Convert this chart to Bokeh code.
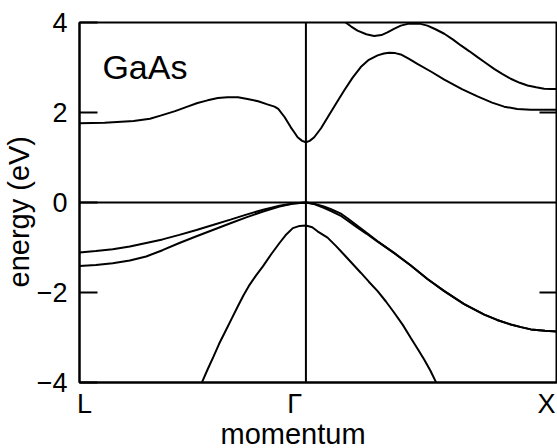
from bokeh.plotting import figure
from bokeh.models import Range1d, FixedTicker, Span, Label, Title
from bokeh.embed import file_html
from bokeh.resources import INLINE

# ---- data (k in units where L=-0.9, Gamma=0, X=1; energies in eV) ----
k_L, k_G, k_X = -0.9, 0.0, 1.0
E_min, E_max = -4.0, 4.0

cb1_k = [-0.90, -0.80, -0.685, -0.62, -0.578, -0.52, -0.471, -0.431, -0.391, -0.35, -0.312, -0.27,
         -0.232, -0.19, -0.153, -0.125, -0.110, -0.085, -0.060, -0.045, -0.033, -0.015, 0.0,
         0.015, 0.033, 0.060, 0.086, 0.12, 0.152, 0.185, 0.218, 0.25, 0.285, 0.31, 0.331, 0.355,
         0.377, 0.41, 0.443, 0.50, 0.550, 0.62, 0.682, 0.74, 0.788, 0.84, 0.894, 0.95, 1.0]
cb1_E = [1.76, 1.77, 1.81, 1.86, 1.93, 2.03, 2.13, 2.21, 2.27, 2.32, 2.34, 2.34,
         2.30, 2.25, 2.18, 2.13, 2.08, 1.90, 1.67, 1.55, 1.45, 1.37, 1.34,
         1.37, 1.45, 1.65, 1.89, 2.20, 2.49, 2.77, 3.01, 3.17, 3.27, 3.31, 3.33, 3.32,
         3.29, 3.19, 3.08, 2.90, 2.73, 2.52, 2.36, 2.22, 2.13, 2.08, 2.06, 2.06, 2.06]

cb2_k = [0.0, 0.10, 0.158, 0.18, 0.205, 0.24, 0.271, 0.30, 0.324, 0.35, 0.377, 0.405, 0.430,
         0.455, 0.483, 0.515, 0.550, 0.585, 0.616, 0.650, 0.682, 0.715, 0.748, 0.780, 0.814,
         0.850, 0.881, 0.915, 0.947, 0.975, 1.0]
cb2_E = [4.6, 4.3, 4.0, 3.91, 3.82, 3.74, 3.70, 3.72, 3.78, 3.86, 3.93, 3.97, 3.98,
         3.97, 3.93, 3.85, 3.75, 3.62, 3.49, 3.36, 3.23, 3.10, 2.97, 2.86, 2.75,
         2.66, 2.60, 2.56, 2.53, 2.52, 2.52]

hh_k = [-0.90, -0.835, -0.768, -0.70, -0.635, -0.57, -0.503, -0.435, -0.370, -0.30, -0.237,
        -0.17, -0.105, -0.05, 0.0,
        0.035, 0.071, 0.10, 0.137, 0.165, 0.198, 0.24, 0.285, 0.35, 0.417, 0.483, 0.550,
        0.629, 0.709, 0.76, 0.814, 0.855, 0.894, 0.95, 1.0]
hh_E = [-1.11, -1.08, -1.04, -0.98, -0.90, -0.82, -0.72, -0.61, -0.50, -0.38, -0.27,
        -0.16, -0.07, -0.02, 0.0,
        -0.03, -0.09, -0.15, -0.24, -0.35, -0.49, -0.67, -0.86, -1.12, -1.40, -1.70, -1.97,
        -2.26, -2.49, -2.61, -2.71, -2.77, -2.82, -2.85, -2.87]

lh_k = [-0.90, -0.835, -0.768, -0.70, -0.635, -0.57, -0.503, -0.435, -0.370, -0.30, -0.237,
        -0.17, -0.105, -0.05, 0.0,
        0.035, 0.071, 0.10, 0.137, 0.165, 0.198, 0.24, 0.285, 0.35, 0.417, 0.483, 0.550,
        0.629, 0.709, 0.76, 0.814, 0.855, 0.894, 0.95, 1.0]
lh_E = [-1.41, -1.39, -1.35, -1.29, -1.20, -1.06, -0.90, -0.75, -0.61, -0.46, -0.33,
        -0.20, -0.09, -0.02, 0.0,
        -0.04, -0.12, -0.19, -0.29, -0.40, -0.53, -0.69, -0.87, -1.12, -1.40, -1.70, -1.97,
        -2.26, -2.49, -2.61, -2.71, -2.77, -2.82, -2.85, -2.87]

so_k = [-0.43, -0.412, -0.39, -0.367, -0.345, -0.320, -0.295, -0.271, -0.248, -0.224, -0.198,
        -0.171, -0.138, -0.105, -0.078, -0.052, -0.025, 0.0,
        0.025, 0.046, 0.086, 0.12, 0.152, 0.185, 0.218, 0.25, 0.285, 0.318, 0.351, 0.385,
        0.417, 0.445, 0.470, 0.495, 0.516, 0.53]
so_E = [-4.2, -3.98, -3.70, -3.42, -3.14, -2.86, -2.58, -2.31, -2.06, -1.83, -1.62,
        -1.42, -1.15, -0.90, -0.71, -0.57, -0.52, -0.51,
        -0.55, -0.64, -0.78, -0.97, -1.16, -1.36, -1.56, -1.76, -1.97, -2.20, -2.45, -2.72,
        -3.01, -3.26, -3.49, -3.74, -3.98, -4.2]

bands = [(cb1_k, cb1_E), (cb2_k, cb2_E), (hh_k, hh_E), (lh_k, lh_E), (so_k, so_E)]

y_ticks = [-4, -2, 0, 2, 4]
y_tick_labels = {-4: "\u22124", -2: "\u22122", 0: "0", 2: "2", 4: "4"}
x_label_pos = [-0.88, -0.045, 0.956]
x_tick_labels = ["L", "\u0393", "X"]
inner_ticks = [-2, 2]

FONT = "Liberation Sans"
W, H = 557, 448
B_LEFT, B_TOP, B_RIGHT, B_BOTTOM = 79, 22, 0, 66
TICK_PX = 18

p = figure(width=W, height=H, output_backend="svg", toolbar_location=None,
           x_range=Range1d(k_L, k_X), y_range=Range1d(E_min, E_max),
           min_border_left=B_LEFT, min_border_top=B_TOP, min_border_right=B_RIGHT,
           min_border_bottom=B_BOTTOM)
p.background_fill_color = "white"
p.border_fill_color = "white"
p.grid.visible = False
p.outline_line_color = "black"
p.outline_line_width = 2

# left axis
ya = p.yaxis[0]
ya.ticker = FixedTicker(ticks=y_ticks)
ya.major_label_overrides = y_tick_labels
ya.major_tick_in = TICK_PX
ya.major_tick_out = 0
ya.minor_tick_line_color = None
ya.major_tick_line_width = 2
ya.axis_line_width = 2
ya.major_label_text_font = FONT
ya.major_label_text_font_size = "27px"
ya.major_label_text_color = "black"
ya.major_label_standoff = 12

# bottom axis
xa = p.xaxis[0]
xa.ticker = FixedTicker(ticks=x_label_pos)
xa.major_label_overrides = {pos: lab for pos, lab in zip(x_label_pos, x_tick_labels)}
xa.major_tick_line_color = None
xa.minor_tick_line_color = None
xa.axis_line_width = 2
xa.major_label_text_font = FONT
xa.major_label_text_font_size = "27px"
xa.major_label_text_color = "black"
xa.major_label_standoff = 0

# axis titles (as side titles so they can be shifted like the reference)
p.add_layout(Title(text="momentum", align="left", offset=141, vertical_align="top",
                   text_font=FONT, text_font_size="29px", text_font_style="normal",
                   text_color="black", standoff=-8), "below")
p.add_layout(Title(text="energy (eV)", align="left", offset=95, text_font=FONT,
                   text_font_size="29px", text_font_style="normal", text_color="black",
                   standoff=-2), "left")

# right-hand inner ticks
frame_w = W - B_LEFT - B_RIGHT
tick_len = (k_X - k_L) * TICK_PX / frame_w
p.segment(x0=[k_X - tick_len] * len(inner_ticks), y0=inner_ticks,
          x1=[k_X] * len(inner_ticks), y1=inner_ticks, line_color="black", line_width=2)

# reference lines
p.add_layout(Span(location=k_G, dimension="height", line_color="black", line_width=2))
p.add_layout(Span(location=0, dimension="width", line_color="black", line_width=2))

for kk, ee in bands:
    p.line(kk, ee, line_color="black", line_width=2)

p.add_layout(Label(x=-0.809, y=3.02, text="GaAs", text_font=FONT, text_font_size="34px",
                   text_baseline="alphabetic", text_color="black"))

open("out.html", "w").write(file_html(p, INLINE))
